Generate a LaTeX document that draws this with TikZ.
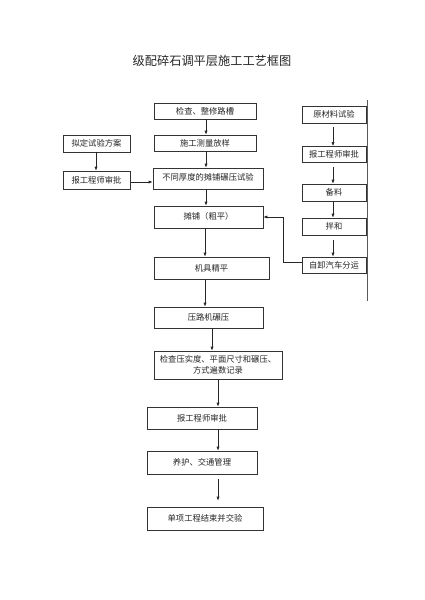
\documentclass[tikz,border=0pt]{standalone}
\usepackage{fontspec}
\newfontfamily\cjk{Noto Sans CJK SC}
\usetikzlibrary{arrows.meta,calc}
\begin{document}
\begin{tikzpicture}[x=1pt,y=-1pt,
  box/.style={draw=black!80,line width=0.7pt,inner sep=0pt,align=center,font=\cjk\fontsize{8.3}{11.5}\selectfont,text=black!85},
  arr/.style={draw=black!85,line width=0.7pt,-{Latex[length=4pt,width=3.2pt]}},
  ln/.style={draw=black!80,line width=0.7pt}]
\useasboundingbox (0,0) rectangle (424,600);
\fill[white] (0,0) rectangle (424,600);
\node[font=\cjk\fontsize{12.2}{14}\selectfont,text=black!85] (title) at (212,61) {级配碎石调平层施工工艺框图};
% main column
\node[box,minimum width=102,minimum height=16] (b1) at (205,111) {检查、整修路槽};
\node[box,minimum width=102,minimum height=16] (b2) at (205,143) {施工测量放样};
\node[box,minimum width=110,minimum height=21,text height=8,text depth=5] (b3) at (208,178.5) {不同厚度的摊铺碾压试验};
\node[box,minimum width=109,minimum height=22,text height=8,text depth=4] (b4) at (208.5,217) {摊铺（粗平）};
\node[box,minimum width=115,minimum height=22] (b5) at (211.5,268) {机具精平};
\node[box,minimum width=109,minimum height=21] (b6) at (208.5,317.5) {压路机碾压};
\node[box,minimum width=128,minimum height=28] (b7) at (218,365) {检查压实度、平面尺寸和碾压、\\方式遍数记录};
\node[box,minimum width=110,minimum height=22] (b8) at (202,418) {报工程师审批};
\node[box,minimum width=110,minimum height=23] (b9) at (202,462.5) {养护、交通管理};
\node[box,minimum width=116,minimum height=23] (b10) at (205,518.5) {单项工程结束并交验};
% left column
\node[box,minimum width=67,minimum height=17] (l1) at (96.5,143.5) {拟定试验方案};
\node[box,minimum width=67,minimum height=18] (l2) at (96.5,180) {报工程师审批};
% right column
\node[box,minimum width=64,minimum height=17] (r1) at (334,114.5) {原材料试验};
\node[box,minimum width=64,minimum height=16] (r2) at (334,154.5) {报工程师审批};
\node[box,minimum width=64,minimum height=17] (r3) at (334,192.5) {备料};
\node[box,minimum width=64,minimum height=17] (r4) at (334,226.5) {拌和};
\node[box,minimum width=64,minimum height=16] (r5) at (334,265) {自卸汽车分运};
% column coordinates
\coordinate (c1) at (206,0);
\coordinate (c0) at (205,0);
\coordinate (c2) at (212,0);
\coordinate (c3) at (218,0);
\coordinate (cl) at (96,0);
\coordinate (cr) at (333,0);
\coordinate (vt) at (367,100);
\coordinate (vb) at (367,301);
\coordinate (jx) at (283,217);
% main arrows
\draw[arr] (b1.south -| c1) -- (b2.north -| c1);
\draw[arr] (b2.south -| c1) -- (b3.north -| c1);
\draw[arr] (b3.south -| c1) -- (b4.north -| c1);
\draw[arr] (b4.south -| c0) -- (b5.north -| c0);
\draw[arr] (b5.south -| c0) -- (b6.north -| c0);
\draw[arr] (b6.south -| c2) -- (b7.north -| c2);
\draw[arr] (b7.south -| c3) -- (b8.north -| c3);
\draw[arr] (b8.south -| c3) -- (b9.north -| c3);
\draw[arr,shorten <=5pt,shorten >=6pt] (b9.south -| c3) -- (b10.north -| c3);
% left arrows
\draw[arr] (l1.south -| cl) -- (l2.north -| cl);
\draw[arr] ([yshift=-2]l2.east) -- ([yshift=-2]l2.east -| b3.west);
% right arrows
\draw[arr,shorten <=4pt] (r1.south -| cr) -- (r2.north -| cr);
\draw[arr,shorten <=4pt] (r2.south -| cr) -- (r3.north -| cr);
\draw[arr] (r3.south -| cr) -- (r4.north -| cr);
\draw[arr,shorten <=5pt] (r4.south -| cr) -- (r5.north -| cr);
\draw[arr] ([yshift=3]r5.west) -| (jx) -- (b4.east);
% right vertical line
\draw[draw=black!65,line width=1pt] (vt) -- (vb);
\end{tikzpicture}
\end{document}
